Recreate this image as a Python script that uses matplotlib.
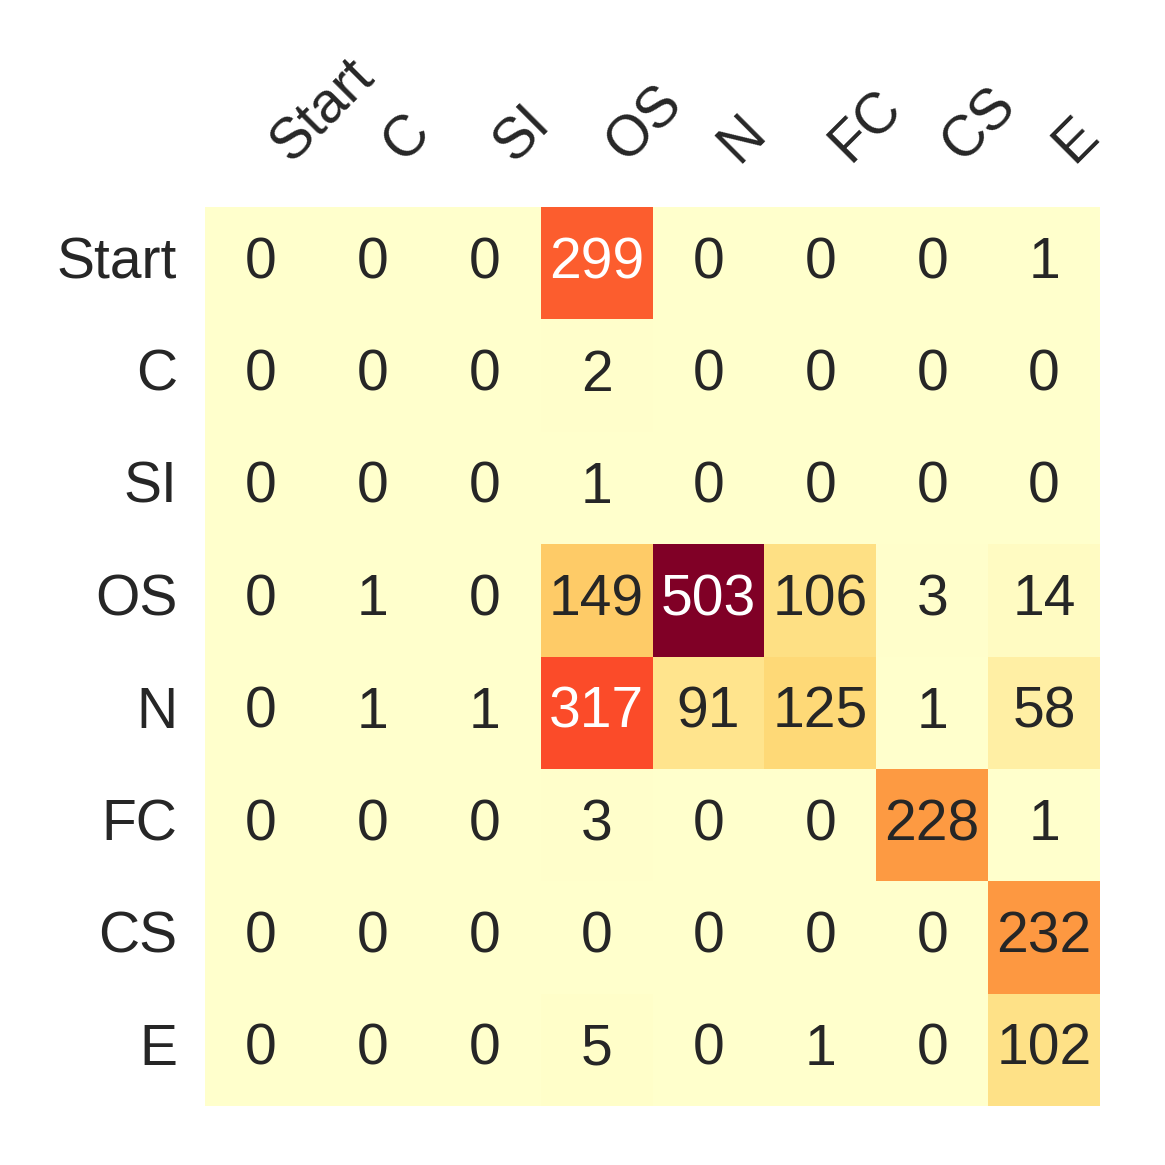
import matplotlib
matplotlib.use("Agg")
import matplotlib.pyplot as plt
import numpy as np
import seaborn as sns

labels = ["Start", "C", "SI", "OS", "N", "FC", "CS", "E"]
row_start = [0, 0, 0, 299, 0, 0, 0, 1]
row_c = [0, 0, 0, 2, 0, 0, 0, 0]
row_si = [0, 0, 0, 1, 0, 0, 0, 0]
row_os = [0, 1, 0, 149, 503, 106, 3, 14]
row_n = [0, 1, 1, 317, 91, 125, 1, 58]
row_fc = [0, 0, 0, 3, 0, 0, 228, 1]
row_cs = [0, 0, 0, 0, 0, 0, 0, 232]
row_e = [0, 0, 0, 5, 0, 1, 0, 102]

data = np.array([row_start, row_c, row_si, row_os, row_n, row_fc, row_cs, row_e])

plt.rcParams['font.family'] = ['Liberation Sans', 'DejaVu Sans']

fig = plt.figure(figsize=(11.65, 11.65), dpi=100)
ax = fig.add_axes([205/1165, 1 - 1106/1165, 895/1165, 899/1165])
sns.heatmap(data, ax=ax, cmap="YlOrRd", vmin=0, vmax=503, annot=True, fmt="d",
            cbar=False, linewidths=0, annot_kws={"fontsize": 41},
            xticklabels=labels, yticklabels=labels)
ax.xaxis.tick_top()
ax.set_xticklabels(labels, rotation=45, ha="left", va="bottom", fontsize=41, color="#262626")
ax.set_yticklabels(labels, rotation=0, fontsize=41, color="#262626")
ax.tick_params(axis="x", length=0, pad=25)
ax.tick_params(axis="y", length=0, pad=20)
for s in ax.spines.values():
    s.set_visible(False)

fig.savefig("out.png", dpi=100, facecolor="white")
